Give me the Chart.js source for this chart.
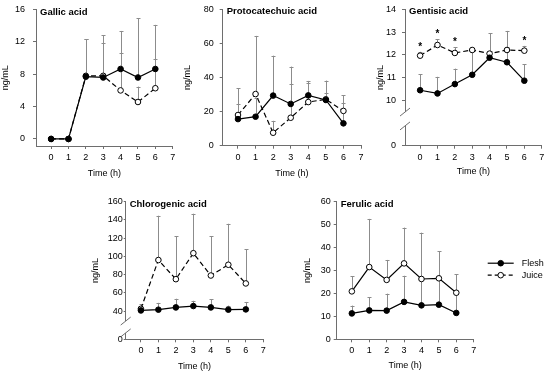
<!DOCTYPE html>
<html>
<head>
<meta charset="utf-8">
<script src="https://cdn.jsdelivr.net/npm/chart.js@4/dist/chart.umd.min.js"></script>
<style>
html,body{margin:0;padding:0;background:#fff;}
#wrap{position:relative;width:550px;height:379px;overflow:hidden;background:#fff;}
#wrap canvas{position:absolute;left:0;top:0;}
</style>
</head>
<body>
<div id="wrap">
<canvas id="c1" width="550" height="379"></canvas>
<canvas id="c2" width="550" height="379"></canvas>
<canvas id="c3" width="550" height="379"></canvas>
<canvas id="c4" width="550" height="379"></canvas>
<canvas id="c5" width="550" height="379"></canvas>
</div>
<script>
// ---------- data ----------
const hours = [0, 1, 2, 3, 4, 5, 6];
const xTickLabels = ['0', '1', '2', '3', '4', '5', '6', '7'];
const seriesNames = ['Flesh', 'Juice'];
const xAxisTitle = 'Time (h)';
const yAxisTitle = 'ng/mL';

const gallicTitle = 'Gallic acid';
const gallicFlesh   = [0, 0, 7.7, 7.6, 8.65, 7.6, 8.65];
const gallicFleshSD = [0, 0, 4.6, 5.25, 4.7, 7.35, 5.45];
const gallicJuice   = [0, 0, 7.8, 7.8, 6.0, 4.57, 6.27];
const gallicJuiceSD = [0, 0, 4.5, 4.0, 4.67, 1.9, 3.6];
const gallicTicks   = [0, 4, 8, 12, 16];

const protoTitle = 'Protocatechuic acid';
const protoFlesh   = [15.6, 17.0, 29.4, 24.5, 29.5, 26.8, 13.1];
const protoFleshSD = [8.7, 11.2, 23.4, 21.9, 8.5, 4, 12.1];
const protoJuice   = [18.0, 30.3, 7.6, 16.4, 25.6, 27.2, 20.4];
const protoJuiceSD = [15.7, 34.1, 7, 19.8, 11, 11, 9.3];
const protoTicks   = [0, 20, 40, 60, 80];

const gentTitle = 'Gentisic acid';
const gentFlesh   = [10.44, 10.30, 10.71, 11.12, 11.87, 11.67, 10.86];
const gentFleshSD = [0.70, 0.73, 0.68, 1.09, 1.07, 1.38, 0.72];
const gentJuice   = [11.96, 12.43, 12.08, 12.21, 12.05, 12.21, 12.18];
const gentJuiceSD = [0.17, 0.26, 0.26, 0.1, 0.1, 0.12, 0.21];
const gentSignif  = [true, true, true, false, false, false, true];
const gentTicks   = [0, 10, 11, 12, 13, 14];

const chloroTitle = 'Chlorogenic acid';
const chloroFlesh   = [40.7, 41.5, 44, 45.5, 44, 41.5, 41.8];
const chloroFleshSD = [2, 7.5, 9.5, 5.8, 8.8, 4.5, 8.2];
const chloroJuice   = [42.5, 96, 75, 103.5, 79, 90.8, 70.3];
const chloroJuiceSD = [5.2, 48.6, 47, 43.3, 43, 45, 37.4];
const chloroTicks   = [0, 40, 60, 80, 100, 120, 140, 160];

const ferTitle = 'Ferulic acid';
const ferFlesh   = [11.3, 12.6, 12.5, 16.3, 14.8, 15.1, 11.5];
const ferFleshSD = [3.4, 5.7, 7.4, 11.4, 12, 11, 8.5];
const ferJuice   = [20.9, 31.5, 25.9, 33.1, 26.3, 26.6, 20.3];
const ferJuiceSD = [6.6, 21, 8.7, 15.6, 20.2, 11.9, 8.0];
const ferTicks   = [0, 10, 20, 30, 40, 50, 60];

// ---------- styling ----------
const FONT = '"Liberation Sans", Arial, Helvetica, sans-serif';
const baseFont = {family: FONT, size: 9, lineHeight: 1.2};
const axisColor = '#6e6e6e';
const errColor = '#8c8c8c';
const W_CANVAS = 550, H_CANVAS = 379;

const panelPlugin = {
  id: 'panel',
  beforeDatasetsDraw(chart, args, opts) {
    const ctx = chart.ctx, ys = chart.scales.y;
    ctx.save();
    ctx.strokeStyle = errColor;
    ctx.lineWidth = 1;
    chart.data.datasets.forEach((ds, di) => {
      const meta = chart.getDatasetMeta(di);
      meta.data.forEach((pt, i) => {
        const sd = ds.sd[i];
        if (!sd) return;
        const y1 = ys.getPixelForValue(ds.data[i].y + sd);
        const x = Math.round(pt.x) + 0.5;
        ctx.beginPath();
        ctx.moveTo(x, pt.y);
        ctx.lineTo(x, y1);
        ctx.moveTo(x - 2, Math.round(y1) + 0.5);
        ctx.lineTo(x + 2, Math.round(y1) + 0.5);
        ctx.stroke();
      });
    });
    ctx.restore();
  },
  afterDraw(chart, args, opts) {
    const ctx = chart.ctx, ca = chart.chartArea, ys = chart.scales.y;
    ctx.save();
    // panel title
    ctx.fillStyle = '#000';
    ctx.font = 'bold 9.5px ' + FONT;
    ctx.textAlign = 'left';
    ctx.textBaseline = 'middle';
    ctx.fillText(opts.title, ca.left + 4, ca.top + 2.5);
    // axis break
    if (opts.breaks) {
      const ax = ca.left;
      const yA = ys.getPixelForValue(opts.breaks[0]);
      const yB = ys.getPixelForValue(opts.breaks[1]);
      ctx.fillStyle = '#fff';
      ctx.fillRect(ax - 2, yA, 4, yB - yA);
      ctx.strokeStyle = axisColor;
      ctx.lineWidth = 1;
      [yA, yB].forEach(y => {
        ctx.beginPath();
        ctx.moveTo(ax - 5, y + 4);
        ctx.lineTo(ax + 5, y - 4);
        ctx.stroke();
      });
    }
    // significance marks
    if (opts.signif) {
      const ds = chart.data.datasets[1];
      const meta = chart.getDatasetMeta(1);
      ctx.fillStyle = '#000';
      ctx.font = 'bold 10px ' + FONT;
      ctx.textAlign = 'center';
      ctx.textBaseline = 'middle';
      opts.signif.forEach((s, i) => {
        if (!s) return;
        const yc = ys.getPixelForValue(ds.data[i].y + ds.sd[i]) - 7;
        ctx.fillText('*', meta.data[i].x, yc + 2.5);
      });
    }
    // legend
    if (opts.legend) {
      const x0 = ca.right + 14, x1 = ca.right + 40, xm = (x0 + x1) / 2;
      const rows = [ca.top + 61.5, ca.top + 73.5];
      chart.data.datasets.forEach((ds, di) => {
        const y = rows[di];
        ctx.strokeStyle = '#000';
        ctx.lineWidth = 1.2;
        ctx.setLineDash(di === 1 ? [4, 3] : []);
        ctx.beginPath();
        ctx.moveTo(x0, y); ctx.lineTo(x1, y);
        ctx.stroke();
        ctx.setLineDash([]);
        ctx.beginPath();
        ctx.arc(xm, y, 2.8, 0, Math.PI * 2);
        ctx.fillStyle = di === 0 ? '#000' : '#fff';
        ctx.fill();
        ctx.lineWidth = 1;
        ctx.stroke();
        ctx.fillStyle = '#000';
        ctx.font = '9px ' + FONT;
        ctx.textAlign = 'left';
        ctx.textBaseline = 'middle';
        ctx.fillText(ds.label, x1 + 8, y);
      });
    }
    ctx.restore();
  }
};

function buildPanel(id, p) {
  const lh = 9 * 1.2;
  const padLeft = p.yTitleX - lh / 2;
  const W = p.area.l - padLeft;
  const H = p.xTitleY - p.area.b + lh / 2;
  const padBottom = H_CANVAS - p.area.b - H;
  const zeroAt = p.zeroAt;
  const mk = (vals) => hours.map((h, i) => ({x: h, y: vals[i]}));
  return new Chart(document.getElementById(id), {
    type: 'line',
    data: {
      datasets: [
        {label: seriesNames[0], data: mk(p.flesh), sd: p.fleshSD,
         borderColor: '#000', borderWidth: 1.2, pointRadius: 2.8,
         pointBackgroundColor: '#000', pointBorderColor: '#000', pointBorderWidth: 1, tension: 0},
        {label: seriesNames[1], data: mk(p.juice), sd: p.juiceSD,
         borderColor: '#000', borderWidth: 1.2, borderDash: p.juiceDash ? [5, 3] : [],
         pointRadius: 2.8, pointBackgroundColor: '#fff', pointBorderColor: '#000', pointBorderWidth: 1, tension: 0}
      ]
    },
    options: {
      responsive: false, animation: false, events: [],
      layout: {padding: {left: padLeft, top: p.area.t, right: W_CANVAS - p.area.r, bottom: padBottom}},
      scales: {
        x: {
          type: 'linear', min: -0.87, max: 7,
          afterBuildTicks: s => { s.ticks = xTickLabels.map(v => ({value: Number(v)})); },
          ticks: {callback: v => String(v), font: baseFont, color: '#000', padding: 3, maxRotation: 0, autoSkip: false},
          grid: {display: true, drawOnChartArea: false, tickLength: 3, color: axisColor},
          border: {display: true, color: axisColor, width: 1},
          title: {display: true, text: xAxisTitle, font: baseFont, color: '#000', padding: 0},
          afterFit: s => { s.height = H; s.paddingLeft = 0; s.paddingRight = 0; }
        },
        y: {
          type: 'linear', min: p.yMin, max: p.yMax,
          afterBuildTicks: s => { s.ticks = p.ticks.map(v => ({value: (v === 0 && zeroAt != null) ? zeroAt : v})); },
          ticks: {callback: v => (zeroAt != null && v === zeroAt) ? '0' : String(v), font: baseFont, color: '#000', padding: p.yPad, autoSkip: false},
          grid: {display: true, drawOnChartArea: false, tickLength: p.yTickLen, color: axisColor},
          border: {display: true, color: axisColor, width: 1},
          title: {display: true, text: yAxisTitle, font: baseFont, color: '#000', padding: 0},
          afterFit: s => { s.width = W; s.paddingTop = 0; s.paddingBottom = 0; }
        }
      },
      plugins: {
        legend: {display: false}, tooltip: {enabled: false},
        panel: {title: p.title, breaks: p.breaks || null, signif: p.signif || null, legend: !!p.legend}
      }
    },
    plugins: [panelPlugin]
  });
}

buildPanel('c1', {title: gallicTitle, flesh: gallicFlesh, fleshSD: gallicFleshSD, juice: gallicJuice, juiceSD: gallicJuiceSD,
  ticks: gallicTicks, yMin: -0.87, yMax: 16, area: {l: 36, r: 172.7, t: 9.5, b: 146},
  yTitleX: 5.5, xTitleY: 174, yPad: 8, yTickLen: 3, juiceDash: true});

buildPanel('c2', {title: protoTitle, flesh: protoFlesh, fleshSD: protoFleshSD, juice: protoJuice, juiceSD: protoJuiceSD,
  ticks: protoTicks, yMin: 0, yMax: 80, area: {l: 222.7, r: 361, t: 9.3, b: 145.7},
  yTitleX: 187.7, xTitleY: 173.5, yPad: 6, yTickLen: 3, juiceDash: true});

buildPanel('c3', {title: gentTitle, flesh: gentFlesh, fleshSD: gentFleshSD, juice: gentJuice, juiceSD: gentJuiceSD,
  ticks: gentTicks, yMin: 8, yMax: 14, zeroAt: 8, breaks: [9.48, 8.87], signif: gentSignif,
  area: {l: 405, r: 541.7, t: 9.3, b: 145.7},
  yTitleX: 380.7, xTitleY: 172, yPad: 6, yTickLen: 3, juiceDash: true});

buildPanel('c4', {title: chloroTitle, flesh: chloroFlesh, fleshSD: chloroFleshSD, juice: chloroJuice, juiceSD: chloroJuiceSD,
  ticks: chloroTicks, yMin: 9, yMax: 160, zeroAt: 9, breaks: [29, 16],
  area: {l: 125.7, r: 263.3, t: 201.7, b: 339.3},
  yTitleX: 95.5, xTitleY: 367, yPad: 1, yTickLen: 2, juiceDash: true});

buildPanel('c5', {title: ferTitle, flesh: ferFlesh, fleshSD: ferFleshSD, juice: ferJuice, juiceSD: ferJuiceSD,
  ticks: ferTicks, yMin: 0, yMax: 60, area: {l: 336.7, r: 473.7, t: 201.7, b: 339.3},
  yTitleX: 307.5, xTitleY: 366, yPad: 3, yTickLen: 3, juiceDash: false, legend: true});
</script>
</body>
</html>
